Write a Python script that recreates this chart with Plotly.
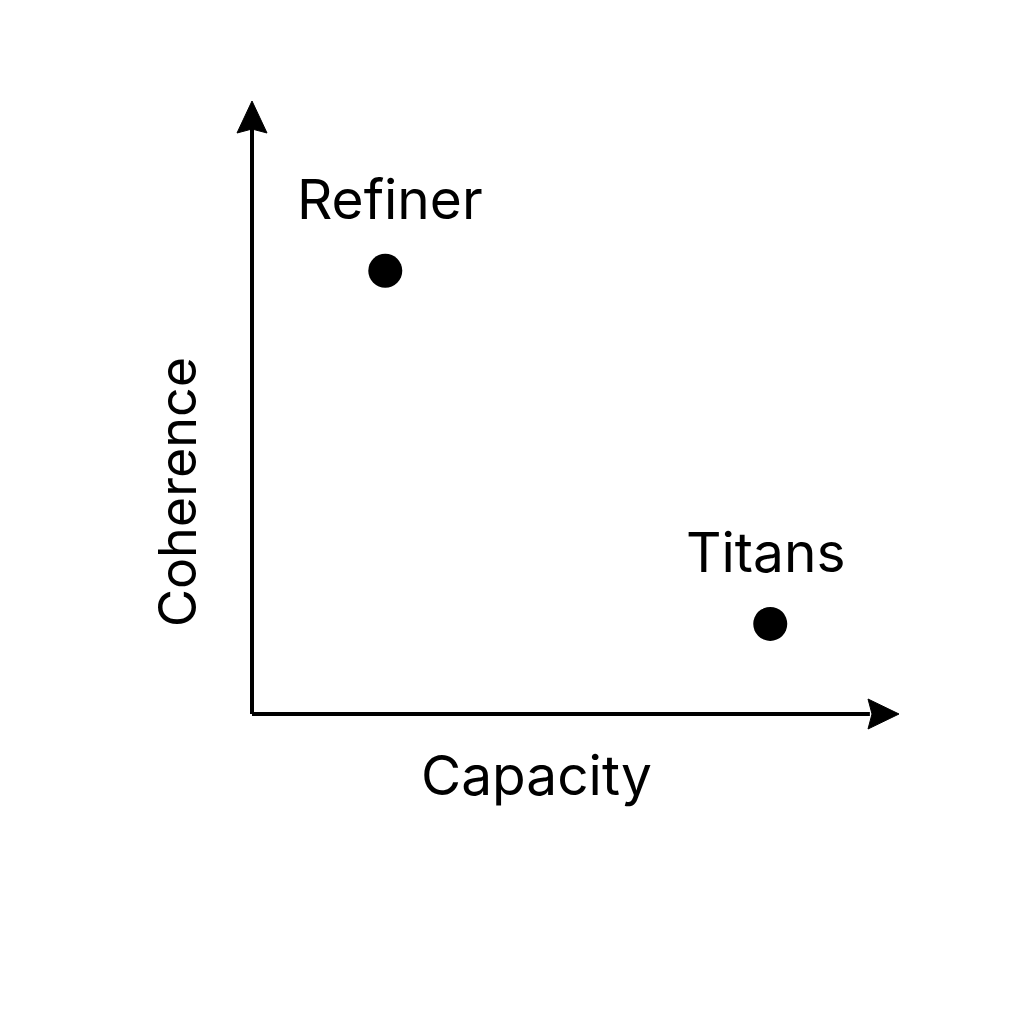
import plotly.graph_objects as go

names = ["Refiner", "Titans"]
capacity = [2.06, 8.01]
coherence = [7.23, 1.47]
x_title = "Capacity"
y_title = "Coherence"

FONT = "Inter, Liberation Sans, sans-serif"
FS = 55

fig = go.Figure()
fig.add_trace(go.Scatter(
    x=capacity, y=coherence, mode="markers",
    marker=dict(size=34, color="black"),
    hoverinfo="skip", showlegend=False,
))

for n, xv, yv in zip(names, capacity, coherence):
    fig.add_annotation(x=xv, y=yv, text=n, showarrow=False,
                       yshift=72, xshift=5 if n == "Refiner" else -4,
                       font=dict(size=FS, color="black", family=FONT))

# axis lines
fig.add_shape(type="line", xref="paper", yref="paper", x0=0, y0=0, x1=0.955, y1=0,
              line=dict(color="black", width=4))
fig.add_shape(type="line", xref="paper", yref="paper", x0=0, y0=0, x1=0, y1=0.955,
              line=dict(color="black", width=4))
# arrowheads
fig.add_shape(type="path", xref="paper", yref="paper", xsizemode="pixel", ysizemode="pixel",
              xanchor=1, yanchor=0, path="M 0,0 L -31,-15 L -27,0 L -31,15 Z",
              fillcolor="black", line=dict(color="black", width=1))
fig.add_shape(type="path", xref="paper", yref="paper", xsizemode="pixel", ysizemode="pixel",
              xanchor=0, yanchor=1, path="M 0,0 L -15,-32 L 0,-28 L 15,-32 Z",
              fillcolor="black", line=dict(color="black", width=1))

fig.add_annotation(xref="paper", yref="paper", x=0.44, y=-0.10, text=x_title,
                   showarrow=False, yanchor="middle",
                   font=dict(size=FS, color="black", family=FONT))
fig.add_annotation(xref="paper", yref="paper", x=-0.116, y=0.362, text=y_title,
                   showarrow=False, textangle=-90, xanchor="center",
                   font=dict(size=52, color="black", family=FONT))

fig.update_xaxes(range=[0, 10], visible=False, fixedrange=True)
fig.update_yaxes(range=[0, 10], visible=False, fixedrange=True)
fig.update_layout(
    width=1024, height=1024,
    margin=dict(l=244, r=133, t=93, b=318),
    paper_bgcolor="white", plot_bgcolor="white",
)
fig.write_html("out.html")
